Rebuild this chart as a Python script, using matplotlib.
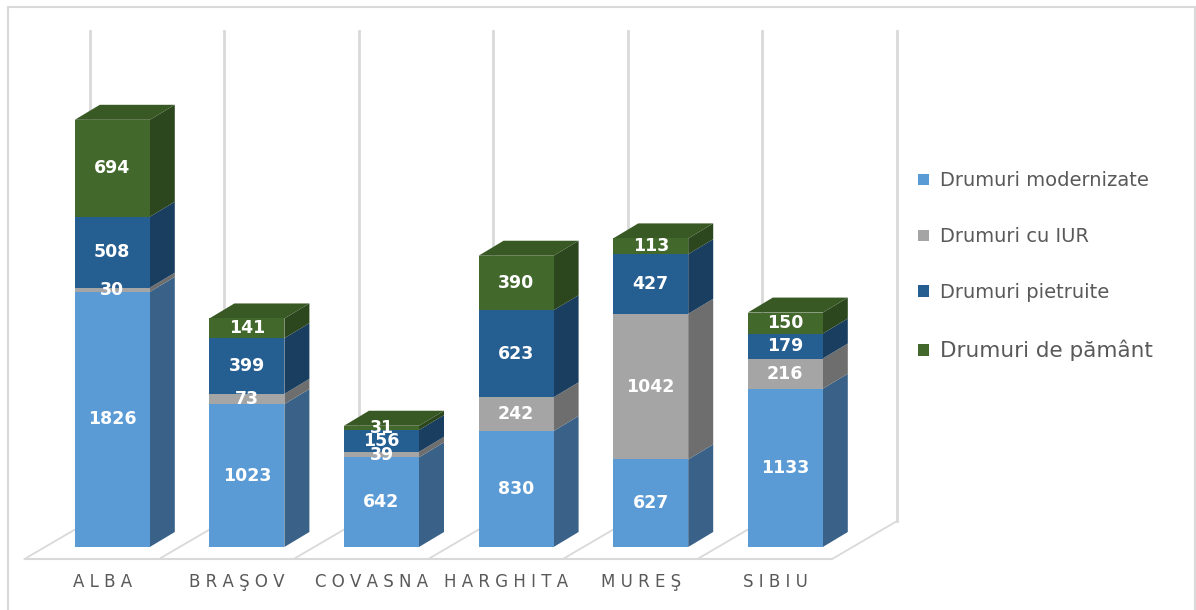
import matplotlib
matplotlib.use("Agg")
import matplotlib.pyplot as plt
from matplotlib.patches import Polygon, Rectangle, Patch
import numpy as np

# ---- data ----
categories = ["ALBA", "BRAŞOV", "COVASNA", "HARGHITA", "MUREŞ", "SIBIU"]
series_names = ["Drumuri modernizate", "Drumuri cu IUR", "Drumuri pietruite", "Drumuri de pământ"]
modernizate = [1826, 1023, 642, 830, 627, 1133]
iur = [30, 73, 39, 242, 1042, 216]
pietruite = [508, 399, 156, 623, 427, 179]
pamant = [694, 141, 31, 390, 113, 150]

front_colors = ["#5B9BD5", "#A5A5A5", "#255E91", "#43682B"]
side_colors = ["#3A6289", "#6E6E6E", "#1A3E60", "#2C461D"]
top_colors = ["#4A80B0", "#8A8A8A", "#1F4D78", "#385824"]

W, H = 1196, 610
fig = plt.figure(figsize=(W / 100, H / 100), dpi=100)
ax = fig.add_axes([0, 0, 1, 1])

# pixel -> data mapping (category units, value units)
px_per_cat = 134.6
cx0 = 112.3
px_per_val = 0.1397
base_px = 547  # from top
ax.set_xlim(-cx0 / px_per_cat, (W - cx0) / px_per_cat)
ax.set_ylim(-(H - base_px) / px_per_val, base_px / px_per_val)
ax.axis("off")

def dxp(px):
    return px / px_per_cat

def dyp(px):
    return px / px_per_val

n = len(categories)
xs = np.arange(n)
bw = dxp(75)
ddx, ddy = dxp(25), dyp(15)           # bar depth
fdx, fdy = dxp(-20.5), dyp(-12)       # floor front offset from bar front
bdx, bdy = dxp(44.5), dyp(26)         # floor back offset from bar front

grid_c = "#D9D9D9"
# floor
left = -0.5
right = n - 0.5
ax.plot([left + fdx, right + fdx], [fdy, fdy], color=grid_c, lw=1.5, zorder=1)
for k in range(n + 1):
    b = k - 0.5
    ax.plot([b + fdx, b + bdx], [fdy, bdy], color=grid_c, lw=1.3, zorder=1)
    # vertical gridline on the back
    ax.plot([b + bdx, b + bdx], [bdy, dyp(base_px - 31)], color=grid_c, lw=2, zorder=1)

series = [modernizate, iur, pietruite, pamant]
bottoms = np.zeros(n)
for si, vals in enumerate(series):
    vals = np.array(vals, dtype=float)
    ax.bar(xs, vals, bottom=bottoms, width=bw, color=front_colors[si],
           label=series_names[si], zorder=5, linewidth=0)
    for i in range(n):
        x1 = xs[i] + bw / 2
        y0 = bottoms[i]
        y1 = bottoms[i] + vals[i]
        side = Polygon([(x1, y0), (x1 + ddx, y0 + ddy), (x1 + ddx, y1 + ddy), (x1, y1)],
                       closed=True, facecolor=side_colors[si], edgecolor="none", zorder=4)
        ax.add_patch(side)
        if si == len(series) - 1:
            x0 = xs[i] - bw / 2
            top = Polygon([(x0, y1), (x1, y1), (x1 + ddx, y1 + ddy), (x0 + ddx, y1 + ddy)],
                          closed=True, facecolor=top_colors[si], edgecolor="none", zorder=4)
            ax.add_patch(top)
        ax.text(xs[i], y0 + vals[i] / 2, f"{int(vals[i])}", ha="center", va="center",
                color="white", fontsize=12.5, fontweight="bold", zorder=10)
    bottoms = bottoms + vals

# category labels
for i, c in enumerate(categories):
    ax.text(xs[i] + dxp(-10), dyp(base_px - 582), " ".join(c), ha="center", va="center",
            color="#595959", fontsize=12)

# frame
fig.patches.append(Rectangle((8 / W, -0.05), (1195 - 8) / W, 1.05 - 7 / H,
                             transform=fig.transFigure, fill=False,
                             edgecolor="#D9D9D9", lw=1.5))

# legend
handles = [Patch(facecolor=front_colors[i], edgecolor="none") for i in range(4)]
leg = fig.legend(handles, series_names, loc="center left",
                 bbox_to_anchor=(918 / W, 1 - 266 / H), frameon=False,
                 handlelength=0.55, handleheight=0.55, handletextpad=0.6,
                 labelspacing=1.9, borderpad=0, borderaxespad=0, fontsize=14)
for t in leg.get_texts():
    t.set_color("#595959")
leg.get_texts()[3].set_fontsize(15.5)

fig.savefig("out.png", dpi=100)
